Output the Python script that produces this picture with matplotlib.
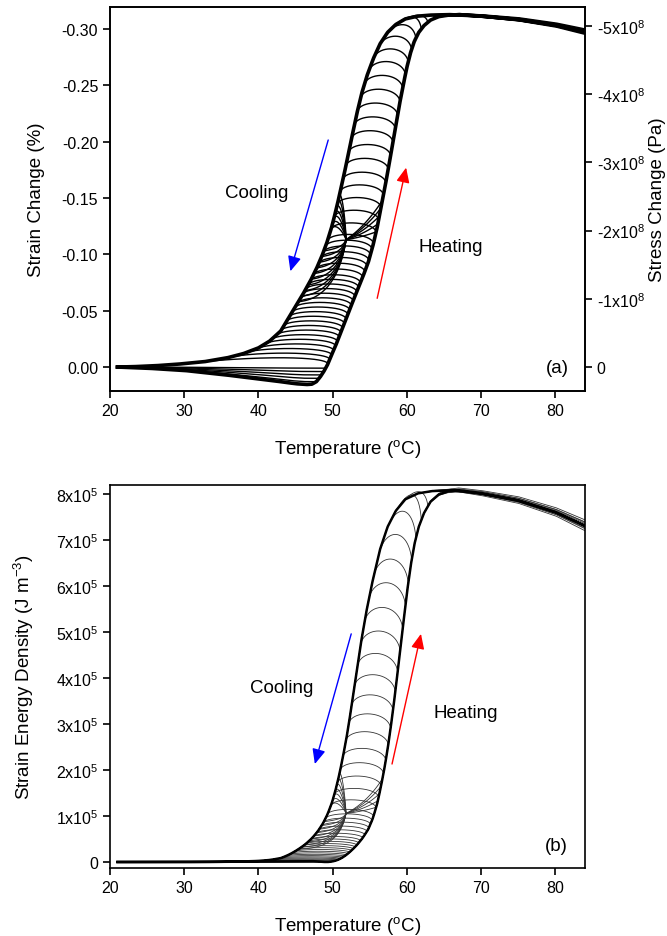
import numpy as np
import matplotlib.pyplot as plt

plt.rcParams['font.family'] = ['Liberation Sans', 'DejaVu Sans']
plt.rcParams['axes.unicode_minus'] = False
plt.rcParams['mathtext.default'] = 'regular'

# major heating branch, panel (a): temperature (C) / strain change (%)
heat_T = [21, 25, 30, 35, 40, 43, 45, 46.5, 47.2, 47.8, 48.3, 48.8, 49.3, 49.8, 50.4,
          51.0, 51.7, 52.4, 53.2, 54.0, 54.8, 55.4, 56.0, 56.5, 57.0, 57.5, 58.0, 58.5,
          59.0, 59.5, 60.0, 60.5, 61.0, 61.6, 62.3, 63.2, 64.3, 65.5, 67.0, 70, 75, 80, 84]
heat_s = [0, .001, .003, .0065, .0105, .013, .0148, .0155, .0152, .013, .009, .004,
          -.002, -.010, -.019, -.029, -.041, -.053, -.066, -.079, -.093, -.107, -.124,
          -.141, -.158, -.176, -.195, -.214, -.233, -.250, -.266, -.279, -.289, -.297,
          -.303, -.308, -.311, -.3123, -.3128, -.3115, -.3085, -.3035, -.2975]

# major cooling branch, panel (a)
cool_T = [21, 24, 27, 30, 33, 36, 38, 40, 41.5, 43, 44.2, 45.2, 46.2, 47.2, 48.0, 48.7,
          49.3, 49.9, 50.4, 50.9, 51.4, 51.9, 52.4, 52.9, 53.4, 54.0, 54.7, 55.5, 56.4,
          57.4, 58.5, 59.8, 61.5, 63.5, 66, 70, 75, 80, 84]
cool_s = [0, -.0005, -.0015, -.003, -.005, -.0085, -.012, -.017, -.023, -.032, -.045,
          -.056, -.067, -.079, -.090, -.101, -.112, -.125, -.138, -.152, -.167, -.182,
          -.198, -.214, -.229, -.245, -.260, -.274, -.287, -.297, -.304, -.309, -.3115,
          -.3125, -.3128, -.3115, -.3085, -.3035, -.2975]

# spread of the repeated full cycles on the high-temperature plateau
plateau_T = [62, 66, 70, 75, 80, 84]
plateau_offsets = [[0, 0.0006, 0.0009, 0.0012, 0.0016, 0.0022],
                   [0, -0.0005, -0.0008, -0.0010, -0.0013, -0.0017],
                   [0, 0.0003, 0.0004, 0.0006, 0.0008, 0.0010],
                   [0, -0.0009, -0.0012, -0.0016, -0.0020, -0.0026]]

# strain at which each partial heating run was reversed
rev_levels = [0.013, 0.010, 0.007, 0.004, 0.001, -0.003, -0.007, -0.011, -0.015, -0.019,
              -0.023, -0.027, -0.031, -0.035, -0.039, -0.043, -0.047, -0.051, -0.055,
              -0.059, -0.063, -0.067, -0.071, -0.075, -0.080, -0.085, -0.090, -0.095,
              -0.100, -0.105, -0.110,
              -0.120, -0.131, -0.142, -0.153, -0.164, -0.176, -0.188, -0.200, -0.212,
              -0.224, -0.236, -0.248, -0.260, -0.271, -0.282, -0.292, -0.300, -0.306]

# return point inside the loop and the branch levels the inner loops reach
P_T, P_s = 51.8, -0.113
fan_low = [-0.058, -0.063, -0.068, -0.073, -0.078, -0.083, -0.088, -0.093, -0.098, -0.103]
fan_high = [-0.122, -0.127, -0.132, -0.137, -0.142, -0.147, -0.152]
fan_right = [-0.120, -0.127, -0.134, -0.141, -0.148]

temp_ticks = [20, 30, 40, 50, 60, 70, 80]
strain_ticks = [0.0, -0.05, -0.10, -0.15, -0.20, -0.25, -0.30]
stress_ticks = [0, -1e8, -2e8, -3e8, -4e8, -5e8]
stress_labels = ['0', '-1x10$^8$', '-2x10$^8$', '-3x10$^8$', '-4x10$^8$', '-5x10$^8$']
energy_ticks = [0, 1e5, 2e5, 3e5, 4e5, 5e5, 6e5, 7e5, 8e5]
energy_labels = ['0'] + ['%dx10$^5$' % i for i in range(1, 9)]

stress_per_pct = 1.652e9                      # Pa per % strain (right axis)
energy_per_pct2 = 0.5 * stress_per_pct / 100  # J m^-3 per (%)^2

h_lo, h_hi = int(np.argmax(heat_s)), int(np.argmin(heat_s))
c_hi = int(np.argmin(cool_s))


def H(T):
    return np.interp(T, heat_T, heat_s)


def C(T):
    return np.interp(T, cool_T, cool_s)


def T_on_heat(s):
    return np.interp(-s, -np.array(heat_s[h_lo:h_hi + 1]), heat_T[h_lo:h_hi + 1])


def T_on_cool(s):
    return np.interp(-s, -np.array(cool_s[:c_hi + 1]), cool_T[:c_hi + 1])


def C_slope(T):
    return (C(T + 0.2) - C(T - 0.2)) / 0.4


def bez(pts, n=120):
    t = np.linspace(0, 1, n)[:, None]
    p = [np.array(q, dtype=float) for q in pts]
    if len(p) == 3:
        r = (1 - t) ** 2 * p[0] + 2 * t * (1 - t) * p[1] + t ** 2 * p[2]
    else:
        r = ((1 - t) ** 3 * p[0] + 3 * t * (1 - t) ** 2 * p[1]
             + 3 * t ** 2 * (1 - t) * p[2] + t ** 3 * p[3])
    return r[:, 0], r[:, 1]


def partial_cycle(s_rev):
    T_rev = float(T_on_heat(s_rev))
    Tu = np.linspace(21, T_rev, 250)
    su = H(Tu)
    if s_rev > 0:
        Td = np.linspace(T_rev, 21, 400)
        sd = s_rev * np.clip(H(np.minimum(Td, 46.5)) / 0.0155, 0, 1)
        return np.concatenate([Tu, Td]), np.concatenate([su, sd])
    mag = -s_rev
    b = min(0.005 + 0.022 * mag, 0.3122 - mag)
    s_j = s_rev - 0.3 * b
    T_j = float(T_on_cool(s_j))
    W = T_rev - T_j
    top = s_rev - 1.33 * b
    slope = min(C_slope(T_j), -1e-4)
    d = min(1.03 * b / -slope, 0.45 * W)
    Ta, sa = bez([(T_rev, s_rev), (T_rev - min(0.1 * W, 0.5), top),
                  (T_j + d, s_j + slope * d), (T_j, s_j)])
    Tb = np.linspace(T_j, 21, 300)
    return (np.concatenate([Tu, Ta, Tb]), np.concatenate([su, sa, C(Tb)]))


curves = [partial_cycle(s) for s in rev_levels]

inner = []
for lvl in fan_low:
    Tk = float(T_on_cool(lvl))
    W = P_T - Tk
    inner.append(bez([(Tk, lvl), (Tk + 0.55 * W, lvl - 0.002),
                      (P_T - 0.12 * W, lvl - 0.4 * (lvl - P_s)), (P_T, P_s)]))
for lvl in fan_high:
    Tk = float(T_on_cool(lvl))
    sl = C_slope(Tk)
    d = 0.35 * (P_T - Tk)
    inner.append(bez([(P_T, P_s), (P_T - 0.1 * (P_T - Tk), P_s + 0.5 * (lvl - P_s)),
                      (Tk + d, lvl + sl * d * 0.5), (Tk, lvl)]))
for lvl in fan_right:
    Tk = float(T_on_heat(lvl))
    inner.append(bez([(P_T, P_s), (P_T + 0.55 * (Tk - P_T), P_s + 0.35 * (lvl - P_s)), (Tk, lvl)]))

T_full = np.linspace(21, 84, 800)
major = (np.concatenate([T_full, T_full[::-1]]),
         np.concatenate([H(T_full), C(T_full[::-1])]))

T_hot = np.linspace(60, 84, 300)
plateaus = []
for offs in plateau_offsets:
    sh = np.interp(T_hot, plateau_T, offs, left=0)
    plateaus.append((T_hot, H(T_hot) + sh))
    plateaus.append((T_hot, C(T_hot) + 0.6 * sh))

fig = plt.figure(figsize=(6.67, 9.37), dpi=100)
ax_a = fig.add_axes([0.165, 0.5816, 0.712, 0.4098])
ax_b = fig.add_axes([0.165, 0.0726, 0.712, 0.4087])

arrow_kw = dict(arrowstyle='-|>,head_length=0.45,head_width=0.2', lw=1.0,
                mutation_scale=20, shrinkA=0, shrinkB=0)

# ---- panel (a)
for T, s in curves + inner + plateaus:
    ax_a.plot(T, s, color='black', lw=1.0)
ax_a.plot(major[0], major[1], color='black', lw=2.6)

ax_a.set_xlim(20, 84)
ax_a.set_ylim(0.0213, -0.3195)
ax_a.set_xticks(temp_ticks)
ax_a.set_yticks(strain_ticks)
ax_a.set_yticklabels(['%.2f' % v for v in strain_ticks])
ax_a.set_xlabel('Temperature ($^o$C)', fontsize=13.5, labelpad=14)
ax_a.set_ylabel('Strain Change (%)', fontsize=13.5, labelpad=12)

ax_a2 = ax_a.twinx()
ax_a2.set_ylim(0.0213 * stress_per_pct, -0.3195 * stress_per_pct)
ax_a2.set_yticks(stress_ticks)
ax_a2.set_yticklabels(stress_labels)
ax_a2.set_ylabel('Stress Change (Pa)', fontsize=13.5, labelpad=3)

ax_a.annotate('', xy=(44.3, -0.085), xytext=(49.4, -0.2015),
              arrowprops=dict(color='blue', **arrow_kw))
ax_a.annotate('', xy=(59.9, -0.177), xytext=(56.0, -0.061),
              arrowprops=dict(color='red', **arrow_kw))
ax_a.text(39.7, -0.155, 'Cooling', fontsize=13.5, ha='center', va='center')
ax_a.text(65.9, -0.107, 'Heating', fontsize=13.5, ha='center', va='center')
ax_a.text(81.8, 0.0, '(a)', fontsize=13.5, ha='right', va='center')

# ---- panel (b)
for T, s in curves + inner + plateaus:
    ax_b.plot(T, energy_per_pct2 * s ** 2, color='#333333', lw=0.6)
ax_b.plot(major[0], energy_per_pct2 * major[1] ** 2, color='black', lw=1.8)

ax_b.set_xlim(20, 84)
ax_b.set_ylim(-0.13e5, 8.196e5)
ax_b.set_xticks(temp_ticks)
ax_b.set_yticks(energy_ticks)
ax_b.set_yticklabels(energy_labels)
ax_b.set_xlabel('Temperature ($^o$C)', fontsize=13.5, labelpad=14)
ax_b.set_ylabel('Strain Energy Density (J m$^{-3}$)', fontsize=13.5, labelpad=14)

ax_b.annotate('', xy=(47.6, 2.13e5), xytext=(52.5, 4.96e5),
              arrowprops=dict(color='blue', **arrow_kw))
ax_b.annotate('', xy=(61.9, 4.96e5), xytext=(58.0, 2.13e5),
              arrowprops=dict(color='red', **arrow_kw))
ax_b.text(43.1, 3.8e5, 'Cooling', fontsize=13.5, ha='center', va='center')
ax_b.text(68.0, 3.26e5, 'Heating', fontsize=13.5, ha='center', va='center')
ax_b.text(81.7, 0.35e5, '(b)', fontsize=13.5, ha='right', va='center')

for ax in (ax_a, ax_a2, ax_b):
    ax.tick_params(direction='out', length=5, width=1.2, labelsize=11.5)
    for sp in ax.spines.values():
        sp.set_linewidth(1.2)

fig.savefig('out.png', dpi=100)
